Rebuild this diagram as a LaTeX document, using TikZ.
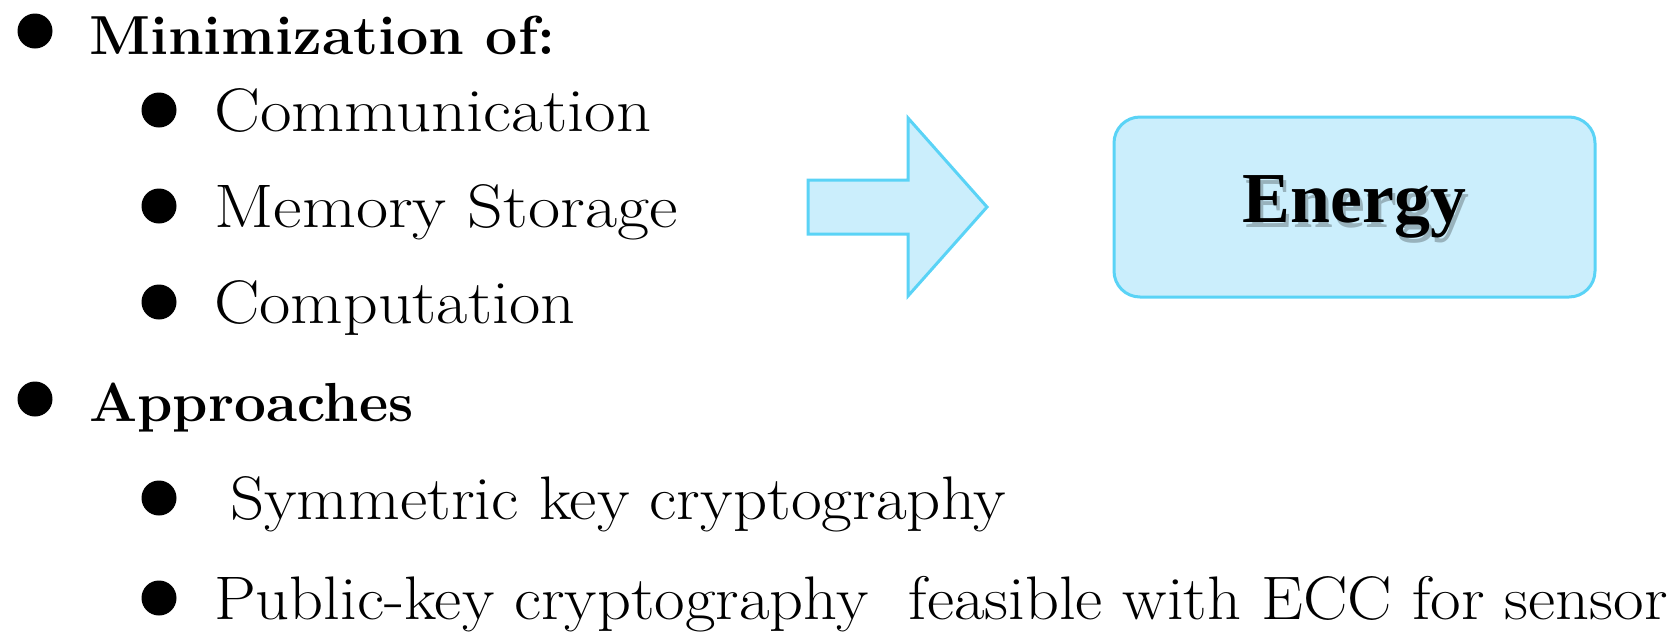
\documentclass[tikz,border=0pt]{standalone}
\usepackage{fontspec}
\newfontfamily\energyfont{Liberation Serif}
\definecolor{boxfill}{HTML}{CBEEFC}
\definecolor{boxline}{HTML}{5AD3F6}
\newcommand{\wide}[2]{\scalebox{#1}[1]{#2}}
\begin{document}
\begin{tikzpicture}[x=1pt,y=-1pt,
  item/.style={anchor=base west,inner sep=0pt,font=\fontsize{61.5}{70}\selectfont},
  head/.style={anchor=base west,inner sep=0pt,font=\fontsize{55}{64}\selectfont\bfseries},
  dot/.style={circle,fill=black,inner sep=0pt,minimum size=35pt},
  bluebox/.style={draw=boxline,fill=boxfill,line width=3pt,line join=miter},
  energytext/.style={inner sep=0pt,text=black,font=\fontsize{71.7}{80}\selectfont\energyfont\bfseries}]
\useasboundingbox (0,0) rectangle (1679,638);
% bullets
\node[dot] (d1) at (35,31) {};
\node[head] (t1) at (89,54) {\wide{1.041}{Minimization of:}};
\node[dot] (d2) at (159,110) {};
\node[item] (t2) at (214,131) {\wide{1.118}{Communication}};
\node[dot] (d3) at (159,206) {};
\node[item] (t3) at (214,227) {\wide{1.137}{Memory Storage}};
\node[dot] (d4) at (159,302) {};
\node[item] (t4) at (214,323) {\wide{1.106}{Computation}};
\node[dot] (d5) at (35,399) {};
\node[head] (t5) at (89,421) {\wide{1.031}{Approaches}};
\node[dot] (d6) at (159,498) {};
\node[item] (t6) at (230,519) {\wide{1.089}{Symmetric key cryptography}};
\node[dot] (d7) at (159,598) {};
\node[item] (t7) at (214,619) {\wide{1.082}{Public-key cryptography~ feasible with ECC for sensor}};
% arrow
\draw[bluebox] (808,180) -- (908,180) -- (908,118) -- (987,207) -- (908,296) -- (908,234) -- (808,234) -- cycle;
% energy box
\draw[bluebox,rounded corners=26pt] (1114,117) rectangle (1595,297);
\coordinate (ec) at (1354.5,207);
\node[energytext,opacity=0.25] (shadow) at ([shift={(3,5)}]ec) {Energy};
\node[energytext] (energy) at (ec) {Energy};
\end{tikzpicture}
\end{document}
